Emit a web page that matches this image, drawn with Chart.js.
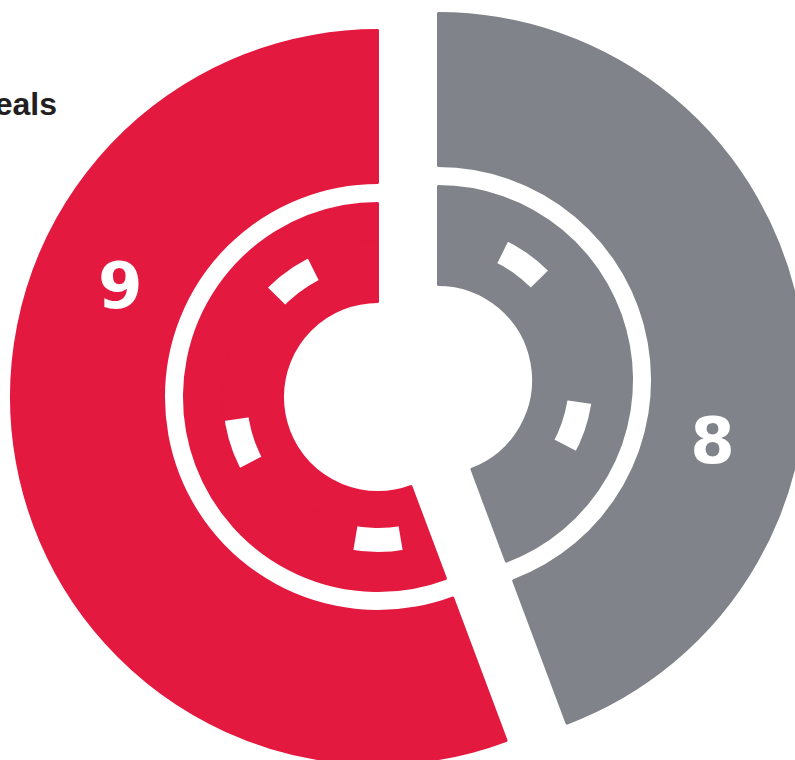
<!DOCTYPE html>
<html>
<head>
<meta charset="utf-8">
<title>Deals</title>
<script src="https://cdn.jsdelivr.net/npm/chart.js@4.4.1/dist/chart.umd.min.js"></script>
<style>
  html, body { margin: 0; padding: 0; background: #fff; overflow: hidden; }
  .stage { position: relative; width: 795px; height: 760px; overflow: hidden; }
  .stage canvas { position: absolute; left: 0; top: 0; }
  .caption { position: absolute; right: 738px; top: 88px; font: bold 32px "Liberation Sans", Arial, sans-serif; line-height: 32px; color: #231f20; white-space: nowrap; }
</style>
</head>
<body>
<div class="stage">
  <div class="caption">deals</div>
  <canvas id="greySlice" width="795" height="760"></canvas>
  <canvas id="redSlice" width="795" height="760"></canvas>
</div>
<script>
// Deals split, drawn as an exploded two-piece chip

const categories = ['Grey', 'Red'];
const dealCounts = [8, 9];          // numbers printed on the slices
const sliceShare = [44.3, 55.7];    // % of the circle each slice covers, as drawn

const sliceColors = ['#808389', '#e4193f'];
const clear = 'rgba(0,0,0,0)';

// chip decoration: white notches every 72deg, clockwise from top
const notchAt = [36, 108, 180, 252, 324];
const notchSpan = 19;

function notchRing() {
    const edge = sliceShare[0] / 100 * 360;
    const cuts = [0, edge, 360];
    notchAt.forEach(c => cuts.push(c - notchSpan / 2, c + notchSpan / 2));
    cuts.sort((a, b) => a - b);
    const segs = [];
    for (let i = 0; i < cuts.length - 1; i++) {
        const size = cuts[i + 1] - cuts[i];
        if (size <= 0) continue;
        const mid = cuts[i] + size / 2;
        segs.push({
            size: size,
            slice: mid < edge ? 0 : 1,
            notch: notchAt.some(c => Math.abs(mid - c) < notchSpan / 2)
        });
    }
    return segs;
}

// white count printed inside each slice
const countLabels = {
    id: 'countLabels',
    afterDatasetsDraw(chart, args, opts) {
        const arc = chart.getDatasetMeta(0).data[opts.index];
        const ctx = chart.ctx;
        const a = arc.startAngle + opts.at * (arc.endAngle - arc.startAngle);
        const x = arc.x + Math.cos(a) * opts.r;
        const y = arc.y + Math.sin(a) * opts.r;
        ctx.save();
        ctx.fillStyle = '#fff';
        ctx.font = 'bold 64px "DejaVu Sans", sans-serif';
        ctx.textAlign = 'center';
        ctx.textBaseline = 'alphabetic';
        ctx.fillText(String(dealCounts[opts.index]), x, y + 23);
        ctx.restore();
    }
};

function makeSlice(canvasId, k, padding, labelAt) {
    const segs = notchRing();
    const fill = sliceShare.map((v, i) => i === k ? sliceColors[i] : clear);
    const edgeW = sliceShare.map((v, i) => i === k ? 2 : 0);
    const notchFill = segs.map(s => !s.notch && s.slice === k ? sliceColors[k] : clear);

    new Chart(document.getElementById(canvasId), {
        type: 'doughnut',
        data: {
            labels: categories,
            datasets: [
                { data: sliceShare, backgroundColor: fill, borderColor: fill, borderWidth: edgeW, weight: 153 },
                { data: sliceShare, backgroundColor: clear, borderWidth: 0, weight: 20 },
                { data: sliceShare, backgroundColor: fill, borderColor: fill, borderWidth: edgeW, weight: 38 },
                { data: segs.map(s => s.size), backgroundColor: notchFill, borderColor: notchFill,
                  borderWidth: notchFill.map(c => c === clear ? 0 : 2), weight: 26 },
                { data: sliceShare, backgroundColor: fill, borderColor: fill, borderWidth: edgeW, weight: 35 }
            ]
        },
        options: {
            responsive: false,
            animation: false,
            events: [],
            radius: 367,
            cutout: '25.9%',
            layout: { padding: padding },
            plugins: {
                legend: { display: false },
                tooltip: { enabled: false },
                countLabels: { index: k, at: labelAt, r: 281 }
            }
        },
        plugins: [countLabels]
    });
}

makeSlice('greySlice', 0, { left: 81, right: 0, top: 0, bottom: 0 }, 0.642);
makeSlice('redSlice', 1, { left: 0, right: 39, top: 34, bottom: 0 }, 0.668);
</script>
</body>
</html>
